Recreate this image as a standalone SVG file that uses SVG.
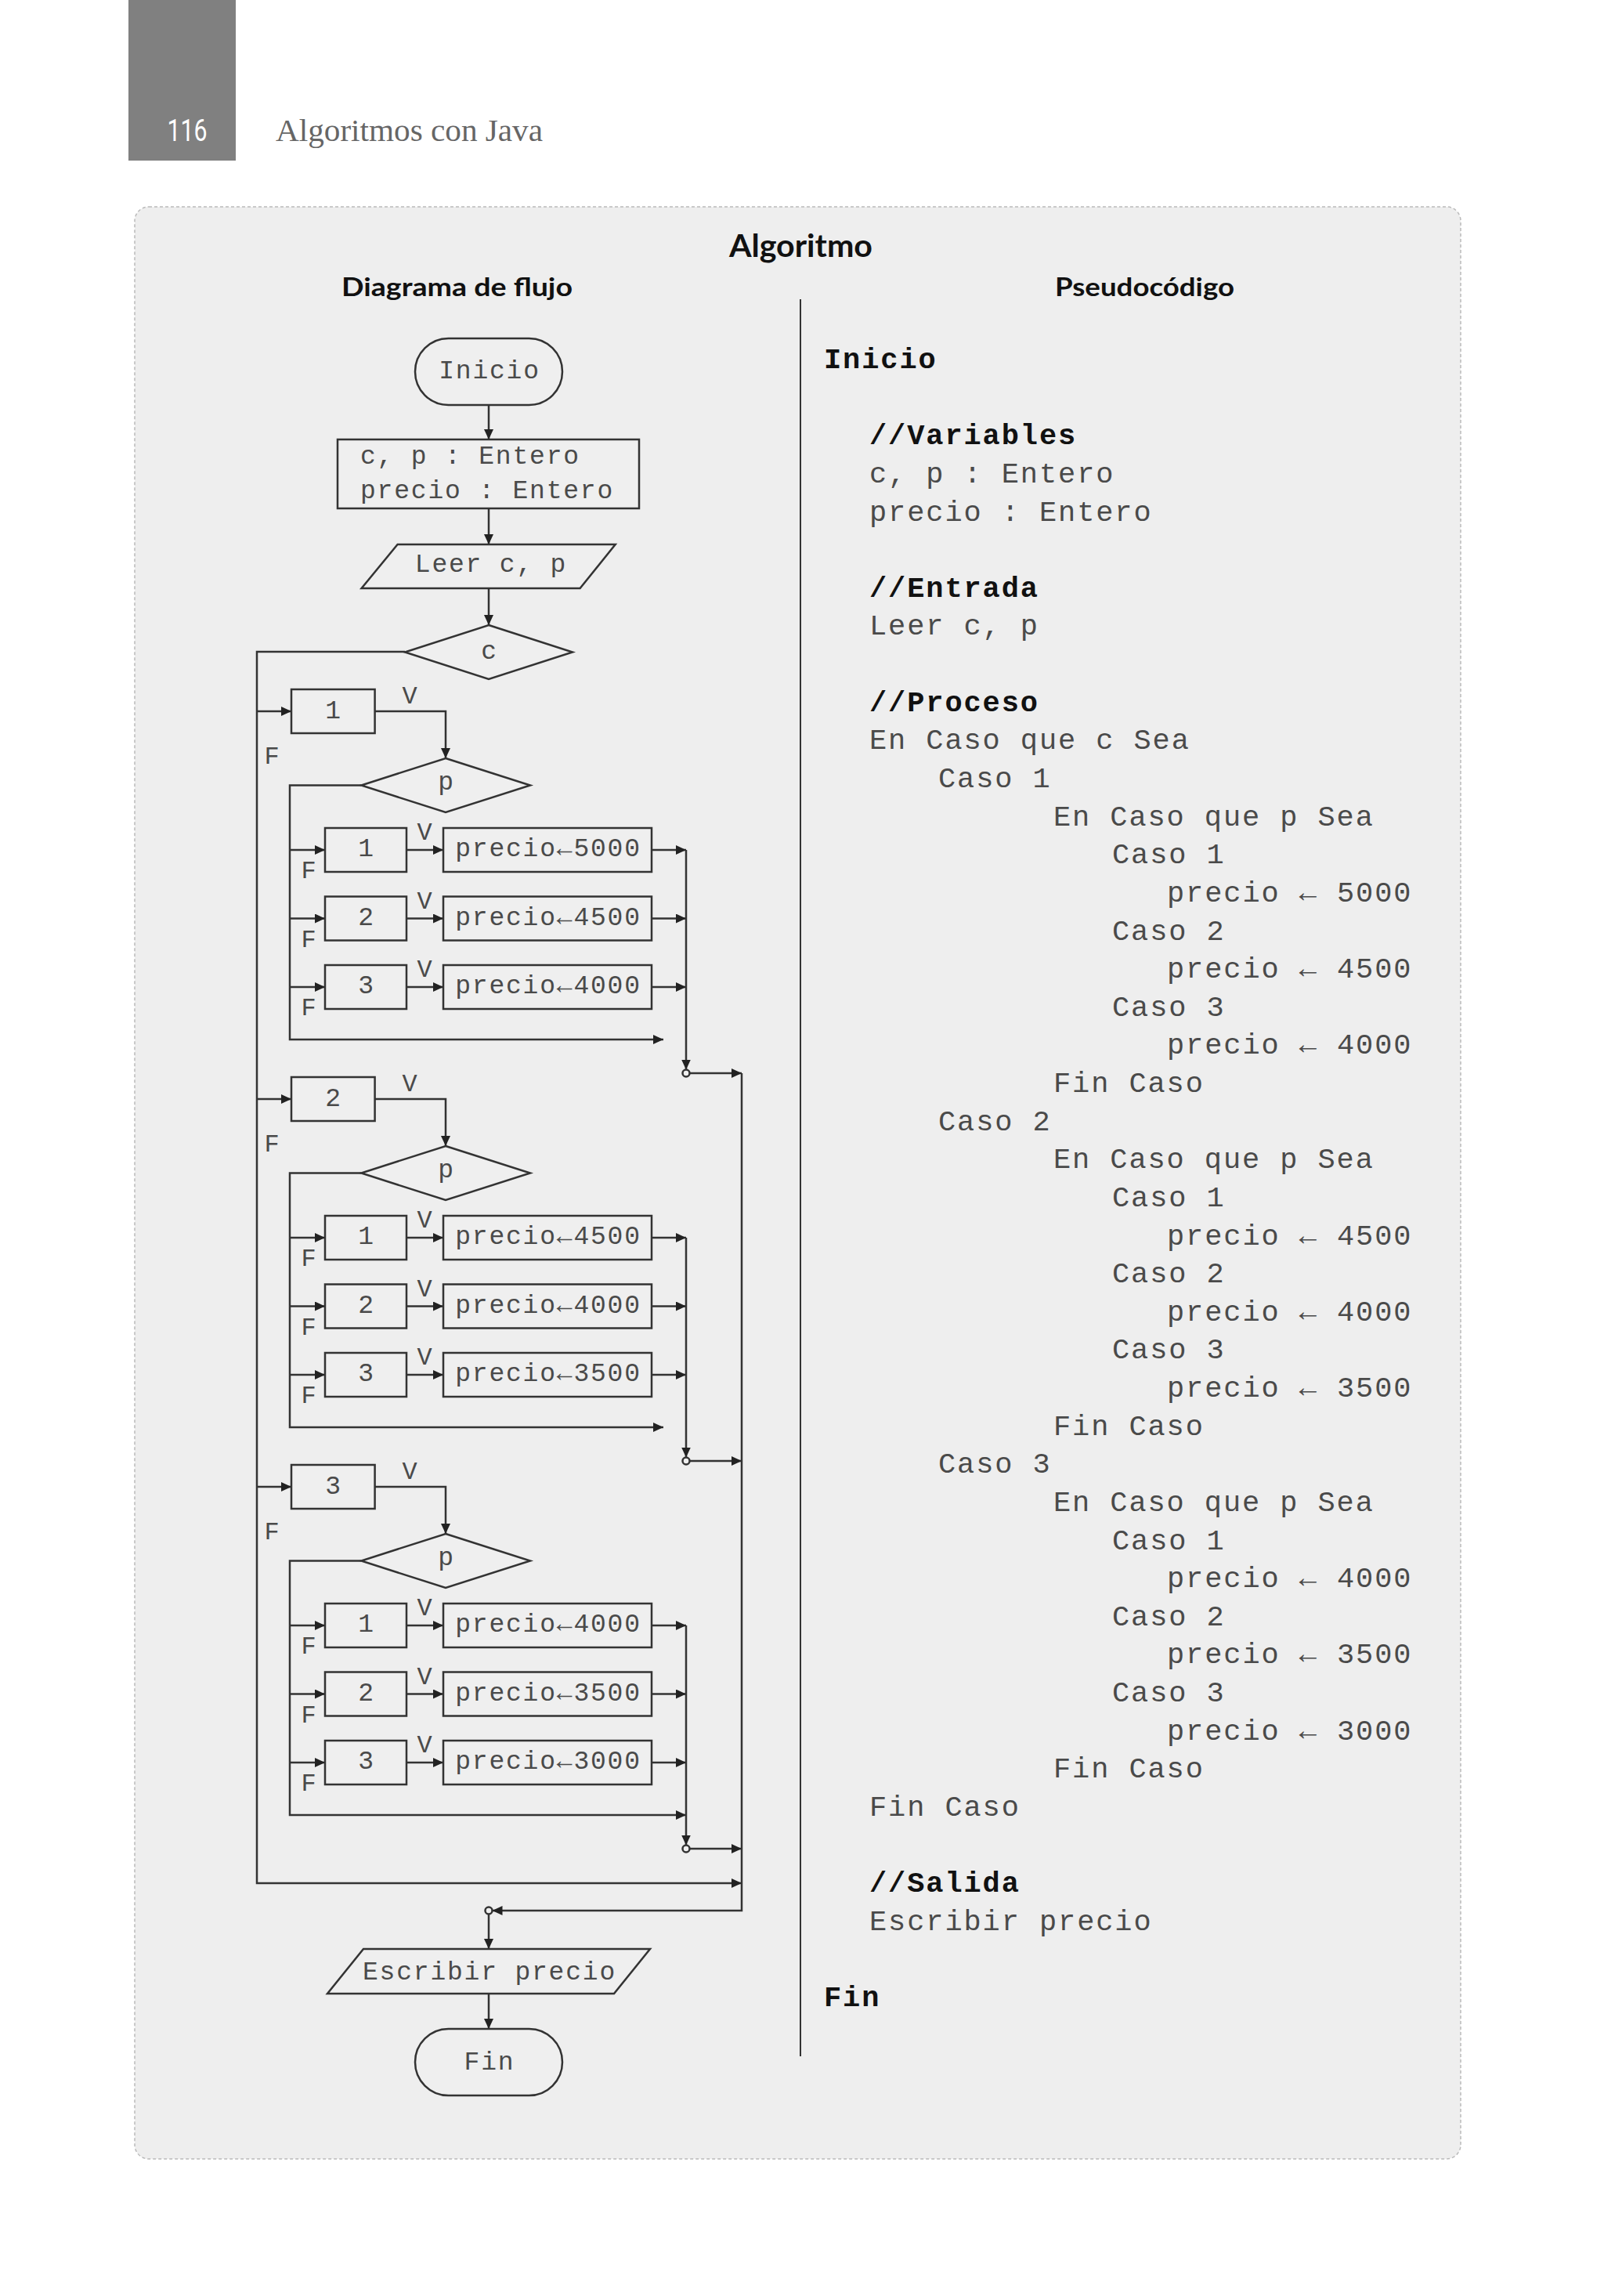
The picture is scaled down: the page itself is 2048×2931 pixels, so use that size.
<svg xmlns="http://www.w3.org/2000/svg" width="2048" height="2931" viewBox="0 0 2048 2931">
<style>
.ln{stroke:#333;stroke-width:2.5;fill:none}
.arr{stroke:#333;stroke-width:2.5;fill:none;marker-end:url(#ah)}
.sh{stroke:#333;stroke-width:2.5;fill:#efefef}
.m{font-family:"Liberation Mono","Courier New",monospace;font-size:33px;letter-spacing:1.8px;fill:#4a4a4a}
.mc{text-anchor:middle}
.code{font-family:"Liberation Mono","Courier New",monospace;font-size:37px;letter-spacing:1.9px;fill:#4a4a4a}
.b{font-weight:bold;fill:#111}
.t{font-family:Lato,"Open Sans",sans-serif;font-weight:bold;fill:#111}
.lab{font-family:"Liberation Mono","Courier New",monospace;font-size:32px;fill:#4a4a4a;text-anchor:middle}
</style>
<defs>
<marker id="ah" markerUnits="userSpaceOnUse" markerWidth="14" markerHeight="12" refX="13" refY="6" orient="auto">
<path d="M0,0 L13,6 L0,12 z" fill="#222"/>
</marker>
</defs>
<rect width="2048" height="2931" fill="#ffffff"/>
<!-- page header -->
<g id="header">
<rect x="164" y="0" width="137" height="205" fill="#808080"/>
<text x="239" y="180" font-family="Roboto,'Liberation Sans',sans-serif" font-size="38" fill="#ffffff" text-anchor="middle" textLength="51" lengthAdjust="spacingAndGlyphs">116</text>
<text x="352" y="180" font-family="'Liberation Serif',serif" font-size="40" fill="#666666" textLength="341" lengthAdjust="spacingAndGlyphs">Algoritmos con Java</text>
</g>
<!-- panel -->
<rect x="172" y="264" width="1693" height="2492" rx="18" fill="#eeeeee" stroke="#bbbbbb" stroke-width="1.5" stroke-dasharray="4 3"/>
<g id="titles">
<text class="t" x="931" y="328" font-size="40" textLength="183" lengthAdjust="spacingAndGlyphs">Algoritmo</text>
<text class="t" x="436" y="378" font-size="33" textLength="295" lengthAdjust="spacingAndGlyphs">Diagrama de flujo</text>
<text class="t" x="1347" y="378" font-size="33" textLength="229" lengthAdjust="spacingAndGlyphs">Pseudocódigo</text>
</g>
<line x1="1022" y1="382" x2="1022" y2="2625" stroke="#333" stroke-width="2"/>

<!-- connectors -->
<g id="connectors">
<path class="arr" d="M624,517 V561"/>
<path class="arr" d="M624,649 V695"/>
<path class="arr" d="M624,751 V798"/>
<path class="arr" d="M517,832 H328 V2404 H947"/>
<!-- outer case arrows -->
<path class="arr" d="M328,908 H372"/>
<path class="arr" d="M328,1403 H372"/>
<path class="arr" d="M328,1898 H372"/>
<!-- block 1 -->
<path class="arr" d="M478.6,908 H569 V968"/>
<path class="arr" d="M461.3,1002.5 H370 V1327 H847"/>
<path class="arr" d="M370,1085 H415"/><path class="arr" d="M519,1085 H566"/><path class="arr" d="M832,1085 H876"/>
<path class="arr" d="M370,1172.5 H415"/><path class="arr" d="M519,1172.5 H566"/><path class="arr" d="M832,1172.5 H876"/>
<path class="arr" d="M370,1260 H415"/><path class="arr" d="M519,1260 H566"/><path class="arr" d="M832,1260 H876"/>
<path class="arr" d="M876,1085 V1365.5"/>
<path class="arr" d="M880.5,1370 H947"/>
<!-- block 2 -->
<path class="arr" d="M478.6,1403 H569 V1463"/>
<path class="arr" d="M461.3,1497.5 H370 V1822 H847"/>
<path class="arr" d="M370,1580 H415"/><path class="arr" d="M519,1580 H566"/><path class="arr" d="M832,1580 H876"/>
<path class="arr" d="M370,1667.5 H415"/><path class="arr" d="M519,1667.5 H566"/><path class="arr" d="M832,1667.5 H876"/>
<path class="arr" d="M370,1755 H415"/><path class="arr" d="M519,1755 H566"/><path class="arr" d="M832,1755 H876"/>
<path class="arr" d="M876,1580 V1860.5"/>
<path class="arr" d="M880.5,1865 H947"/>
<!-- block 3 -->
<path class="arr" d="M478.6,1898 H569 V1958"/>
<path class="arr" d="M461.3,1992.5 H370 V2317 H876"/>
<path class="arr" d="M370,2075 H415"/><path class="arr" d="M519,2075 H566"/><path class="arr" d="M832,2075 H876"/>
<path class="arr" d="M370,2162.5 H415"/><path class="arr" d="M519,2162.5 H566"/><path class="arr" d="M832,2162.5 H876"/>
<path class="arr" d="M370,2250 H415"/><path class="arr" d="M519,2250 H566"/><path class="arr" d="M832,2250 H876"/>
<path class="arr" d="M876,2075 V2355.5"/>
<path class="arr" d="M880.5,2360 H947"/>
<!-- merge -->
<path class="arr" d="M947,1370 V2439 H628.5"/>
<path class="arr" d="M624,2443.5 V2488"/>
<path class="arr" d="M624,2545 V2590"/>
<circle cx="876" cy="1370" r="4.5" class="sh"/>
<circle cx="876" cy="1865" r="4.5" class="sh"/>
<circle cx="876" cy="2360" r="4.5" class="sh"/>
<circle cx="624" cy="2439" r="4.5" class="sh"/>
<!-- labels -->
<text class="lab" x="523" y="898">V</text>
<text class="lab" x="347" y="975">F</text>
<text class="lab" x="523" y="1393">V</text>
<text class="lab" x="347" y="1470">F</text>
<text class="lab" x="523" y="1888">V</text>
<text class="lab" x="347" y="1965">F</text>
<text class="lab" x="542" y="1072">V</text><text class="lab" x="394" y="1121">F</text>
<text class="lab" x="542" y="1159.5">V</text><text class="lab" x="394" y="1208.5">F</text>
<text class="lab" x="542" y="1247">V</text><text class="lab" x="394" y="1296">F</text>
<text class="lab" x="542" y="1567">V</text><text class="lab" x="394" y="1616">F</text>
<text class="lab" x="542" y="1654.5">V</text><text class="lab" x="394" y="1703.5">F</text>
<text class="lab" x="542" y="1742">V</text><text class="lab" x="394" y="1791">F</text>
<text class="lab" x="542" y="2062">V</text><text class="lab" x="394" y="2111">F</text>
<text class="lab" x="542" y="2149.5">V</text><text class="lab" x="394" y="2198.5">F</text>
<text class="lab" x="542" y="2237">V</text><text class="lab" x="394" y="2286">F</text>
</g>

<!-- nodes -->
<g id="inicio"><rect class="sh" x="530" y="432" width="188" height="85" rx="42.5"/><text class="m mc" x="625" y="483">Inicio</text></g>
<g id="decl"><rect class="sh" x="431" y="561" width="385" height="88"/><text class="m" x="460" y="592">c, p : Entero</text><text class="m" x="460" y="636">precio : Entero</text></g>
<g id="leer"><polygon class="sh" points="507.6,695 785.7,695 740.6,751 461.6,751"/><text class="m mc" x="627" y="730">Leer c, p</text></g>
<g id="dec-c"><polygon class="sh" points="624,798 731,832.5 624,867 517,832.5"/><text class="m mc" x="625" y="841">c</text></g>

<g id="c1"><rect class="sh" x="372" y="880" width="106.6" height="56"/><text class="m mc" x="426" y="917">1</text></g>
<g id="p1"><polygon class="sh" points="569,968 677,1002.5 569,1037 461.3,1002.5"/><text class="m mc" x="570" y="1008">p</text></g>
<g id="c1p1"><rect class="sh" x="415" y="1057" width="104" height="56"/><text class="m mc" x="468" y="1093">1</text></g>
<g id="s1p1"><rect class="sh" x="566" y="1057" width="266" height="56"/><text class="m mc" x="700" y="1093">precio←5000</text></g>
<g id="c1p2"><rect class="sh" x="415" y="1144.5" width="104" height="56"/><text class="m mc" x="468" y="1180.5">2</text></g>
<g id="s1p2"><rect class="sh" x="566" y="1144.5" width="266" height="56"/><text class="m mc" x="700" y="1180.5">precio←4500</text></g>
<g id="c1p3"><rect class="sh" x="415" y="1232" width="104" height="56"/><text class="m mc" x="468" y="1268">3</text></g>
<g id="s1p3"><rect class="sh" x="566" y="1232" width="266" height="56"/><text class="m mc" x="700" y="1268">precio←4000</text></g>

<g id="c2"><rect class="sh" x="372" y="1375" width="106.6" height="56"/><text class="m mc" x="426" y="1412">2</text></g>
<g id="p2"><polygon class="sh" points="569,1463 677,1497.5 569,1532 461.3,1497.5"/><text class="m mc" x="570" y="1503">p</text></g>
<g id="c2p1"><rect class="sh" x="415" y="1552" width="104" height="56"/><text class="m mc" x="468" y="1588">1</text></g>
<g id="s2p1"><rect class="sh" x="566" y="1552" width="266" height="56"/><text class="m mc" x="700" y="1588">precio←4500</text></g>
<g id="c2p2"><rect class="sh" x="415" y="1639.5" width="104" height="56"/><text class="m mc" x="468" y="1675.5">2</text></g>
<g id="s2p2"><rect class="sh" x="566" y="1639.5" width="266" height="56"/><text class="m mc" x="700" y="1675.5">precio←4000</text></g>
<g id="c2p3"><rect class="sh" x="415" y="1727" width="104" height="56"/><text class="m mc" x="468" y="1763">3</text></g>
<g id="s2p3"><rect class="sh" x="566" y="1727" width="266" height="56"/><text class="m mc" x="700" y="1763">precio←3500</text></g>

<g id="c3"><rect class="sh" x="372" y="1870" width="106.6" height="56"/><text class="m mc" x="426" y="1907">3</text></g>
<g id="p3"><polygon class="sh" points="569,1958 677,1992.5 569,2027 461.3,1992.5"/><text class="m mc" x="570" y="1998">p</text></g>
<g id="c3p1"><rect class="sh" x="415" y="2047" width="104" height="56"/><text class="m mc" x="468" y="2083">1</text></g>
<g id="s3p1"><rect class="sh" x="566" y="2047" width="266" height="56"/><text class="m mc" x="700" y="2083">precio←4000</text></g>
<g id="c3p2"><rect class="sh" x="415" y="2134.5" width="104" height="56"/><text class="m mc" x="468" y="2170.5">2</text></g>
<g id="s3p2"><rect class="sh" x="566" y="2134.5" width="266" height="56"/><text class="m mc" x="700" y="2170.5">precio←3500</text></g>
<g id="c3p3"><rect class="sh" x="415" y="2222" width="104" height="56"/><text class="m mc" x="468" y="2258">3</text></g>
<g id="s3p3"><rect class="sh" x="566" y="2222" width="266" height="56"/><text class="m mc" x="700" y="2258">precio←3000</text></g>

<g id="escribir"><polygon class="sh" points="464,2488 830,2488 784,2545 418,2545"/><text class="m mc" x="625" y="2527">Escribir precio</text></g>
<g id="fin"><rect class="sh" x="530" y="2590" width="188" height="85" rx="42.5"/><text class="m mc" x="625" y="2642">Fin</text></g>

<!-- pseudocode -->
<g id="pseudocodigo" class="code">
<text class="b" x="1052" y="470">Inicio</text>
<text class="b" x="1110" y="567.3">//Variables</text>
<text x="1110" y="615.9">c, p : Entero</text>
<text x="1110" y="664.5">precio : Entero</text>
<text class="b" x="1110" y="761.8">//Entrada</text>
<text x="1110" y="810.4">Leer c, p</text>
<text class="b" x="1110" y="907.7">//Proceso</text>
<text x="1110" y="956.3">En Caso que c Sea</text>
<text x="1198" y="1004.9">Caso 1</text>
<text x="1345" y="1053.6">En Caso que p Sea</text>
<text x="1420" y="1102.2">Caso 1</text>
<text x="1490" y="1150.8">precio ← 5000</text>
<text x="1420" y="1199.5">Caso 2</text>
<text x="1490" y="1248.1">precio ← 4500</text>
<text x="1420" y="1296.7">Caso 3</text>
<text x="1490" y="1345.3">precio ← 4000</text>
<text x="1345" y="1394">Fin Caso</text>
<text x="1198" y="1442.6">Caso 2</text>
<text x="1345" y="1491.2">En Caso que p Sea</text>
<text x="1420" y="1539.9">Caso 1</text>
<text x="1490" y="1588.5">precio ← 4500</text>
<text x="1420" y="1637.1">Caso 2</text>
<text x="1490" y="1685.8">precio ← 4000</text>
<text x="1420" y="1734.4">Caso 3</text>
<text x="1490" y="1783">precio ← 3500</text>
<text x="1345" y="1831.6">Fin Caso</text>
<text x="1198" y="1880.3">Caso 3</text>
<text x="1345" y="1928.9">En Caso que p Sea</text>
<text x="1420" y="1977.5">Caso 1</text>
<text x="1490" y="2026.2">precio ← 4000</text>
<text x="1420" y="2074.8">Caso 2</text>
<text x="1490" y="2123.4">precio ← 3500</text>
<text x="1420" y="2172.1">Caso 3</text>
<text x="1490" y="2220.7">precio ← 3000</text>
<text x="1345" y="2269.3">Fin Caso</text>
<text x="1110" y="2317.9">Fin Caso</text>
<text class="b" x="1110" y="2415.2">//Salida</text>
<text x="1110" y="2463.8">Escribir precio</text>
<text class="b" x="1052" y="2561.1">Fin</text>
</g>
</svg>
